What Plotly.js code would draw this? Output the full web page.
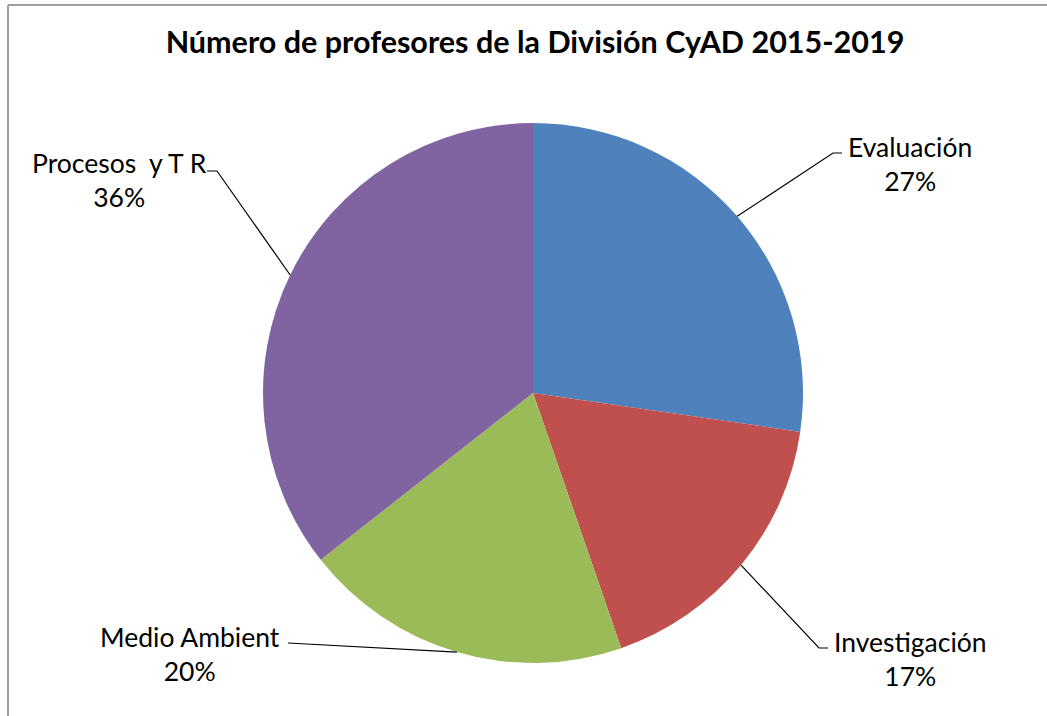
<!DOCTYPE html>
<html>
<head>
<meta charset="utf-8">
<script src="https://cdn.plot.ly/plotly-3.0.1.min.js"></script>
<style>html,body{margin:0;padding:0;background:#fff;}#chart{width:1047px;height:716px;}</style>
</head>
<body>
<div id="chart"></div>
<script>
// Data
const categories = ["Evaluación", "Investigación", "Medio Ambient", "Procesos  y T R"];
const values = [27.3, 17.4, 19.7, 35.6];
const colors = ["#4F81BD", "#C0504D", "#9BBB59", "#8064A2"];
const titleText = "Número de profesores de la División CyAD 2015-2019";

// Layout geometry (pixels)
const W = 1047, H = 716;
const cx = 533, cy = 393, R = 270;
// label text centres and elbow ends (pixels) – placement only
const labelPos = [
  {tx: 910, ty: 164, ex: 833, ey: 153, hx: 842},
  {tx: 910, ty: 659, ex: 819, ey: 648, hx: 828},
  {tx: 190, ty: 654, ex: 288, ey: 643, hx: 288},
  {tx: 119, ty: 180, ex: 217, ey: 171, hx: 207}
];

const px = x => x / W;
const py = y => 1 - y / H;

const total = values.reduce((a, b) => a + b, 0);
const pctText = values.map(v => Math.round(v / total * 100) + "%");

const shapes = [];
const annotations = [];
let cum = 0;
values.forEach((v, i) => {
  const mid = (cum + v / 2) / total * 2 * Math.PI;
  cum += v;
  const sx = cx + R * Math.sin(mid);
  const sy = cy - R * Math.cos(mid);
  const L = labelPos[i];
  shapes.push({
    type: "path", xref: "paper", yref: "paper",
    path: `M ${px(sx)} ${py(sy)} L ${px(L.ex)} ${py(L.ey)} L ${px(L.hx)} ${py(L.ey)}`,
    line: {color: "#000", width: 1.2}
  });
  annotations.push({
    xref: "paper", yref: "paper", x: px(L.tx), y: py(L.ty),
    xanchor: "center", yanchor: "middle", showarrow: false,
    text: categories[i] + "<br>" + pctText[i],
    align: "center",
    font: {family: "Lato, 'Open Sans', sans-serif", size: 26.5, color: "#000"}
  });
});

// chart-area border (top and left visible)
shapes.push({type: "line", xref: "paper", yref: "paper", x0: px(8), y0: 0, x1: px(8), y1: py(5), line: {color: "#a0a0a0", width: 2}});
shapes.push({type: "line", xref: "paper", yref: "paper", x0: px(8), y0: py(5), x1: 1, y1: py(5), line: {color: "#a0a0a0", width: 2}});

const trace = {
  type: "pie",
  labels: categories,
  values: values,
  sort: false,
  direction: "clockwise",
  rotation: 0,
  textinfo: "none",
  hoverinfo: "label+percent",
  marker: {colors: colors, line: {width: 0}},
  showlegend: false,
  domain: {x: [px(cx - R), px(cx + R)], y: [py(cy + R), py(cy - R)]}
};

const layout = {
  width: W, height: H,
  margin: {l: 0, r: 0, t: 0, b: 0},
  paper_bgcolor: "#fff",
  title: {
    text: "<b>" + titleText + "</b>",
    x: px(535), y: py(42), xanchor: "center", yanchor: "middle",
    font: {family: "Lato, 'Open Sans', sans-serif", size: 30.5, color: "#000"}
  },
  shapes: shapes,
  annotations: annotations
};

Plotly.newPlot("chart", [trace], layout, {displayModeBar: false, staticPlot: true});
</script>
</body>
</html>
